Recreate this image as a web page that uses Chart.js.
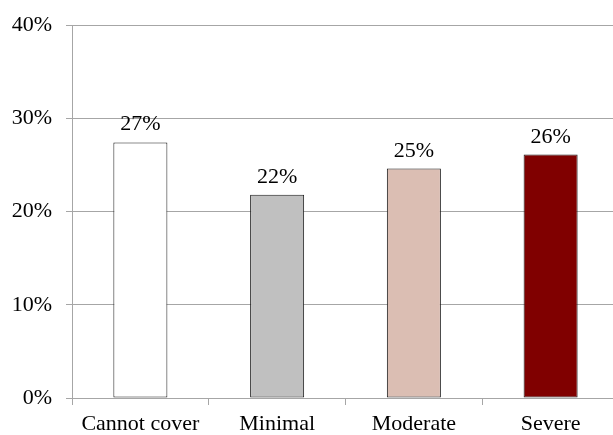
<!DOCTYPE html>
<html>
<head>
<meta charset="utf-8">
<script src="https://cdn.jsdelivr.net/npm/chart.js@4"></script>
<style>
  html, body { margin: 0; padding: 0; background: #fff; overflow: hidden; }
  #wrap { position: relative; width: 619px; height: 435px; }
</style>
</head>
<body>
<div id="wrap"><canvas id="chart"></canvas></div>
<script>
// data
const categories = ["Cannot cover", "Minimal", "Moderate", "Severe"];
const shares = [27.4, 21.8, 24.6, 26.1];
const shareLabels = ["27%", "22%", "25%", "26%"];
const barColors = ["#ffffff", "#c0c0c0", "#dbbeb3", "#800000"];
const yTicks = [0, 10, 20, 30, 40];

const FONT = "'Liberation Serif', 'DejaVu Serif', serif";
const GRID = "#a6a6a6";

// value labels above each bar
const valueLabels = {
  id: "valueLabels",
  afterDatasetsDraw(chart) {
    const { ctx } = chart;
    const meta = chart.getDatasetMeta(0);
    ctx.save();
    ctx.font = "22px " + FONT;
    ctx.fillStyle = "#000";
    ctx.textAlign = "center";
    ctx.textBaseline = "alphabetic";
    meta.data.forEach((bar, i) => {
      ctx.fillText(shareLabels[i], bar.x, bar.y - 12);
    });
    ctx.restore();
  },
};

new Chart(document.getElementById("chart"), {
  type: "bar",
  data: {
    labels: categories,
    datasets: [{
      data: shares,
      backgroundColor: barColors,
      borderColor: "#1a1a1a",
      borderWidth: 1,
      borderSkipped: false,
      categoryPercentage: 1,
      barPercentage: 0.395,
    }],
  },
  options: {
    responsive: true,
    maintainAspectRatio: false,
    animation: false,
    devicePixelRatio: 1,
    layout: { padding: { top: 25, right: 0, bottom: 0, left: 0 } },
    plugins: {
      legend: { display: false },
      tooltip: { enabled: false },
    },
    scales: {
      x: {
        grid: { drawOnChartArea: false, drawTicks: true, tickLength: 7, color: GRID, offset: true },
        border: { color: GRID },
        ticks: { color: "#000", font: { family: FONT, size: 22 }, padding: 6, maxRotation: 0 },
        afterFit: (s) => { s.height = 37; s.paddingLeft = 0; s.paddingRight = 0; },
      },
      y: {
        min: 0,
        max: 40,
        afterBuildTicks: (s) => { s.ticks = yTicks.map(v => ({ value: v })); },
        grid: { color: GRID, tickLength: 6 },
        border: { color: GRID },
        ticks: {
          color: "#000",
          font: { family: FONT, size: 22 },
          padding: 14,
          callback: (v) => v + "%",
        },
        afterFit: (s) => { s.width = 72; s.paddingTop = 0; s.paddingBottom = 0; },
      },
    },
  },
  plugins: [valueLabels],
});
</script>
</body>
</html>
